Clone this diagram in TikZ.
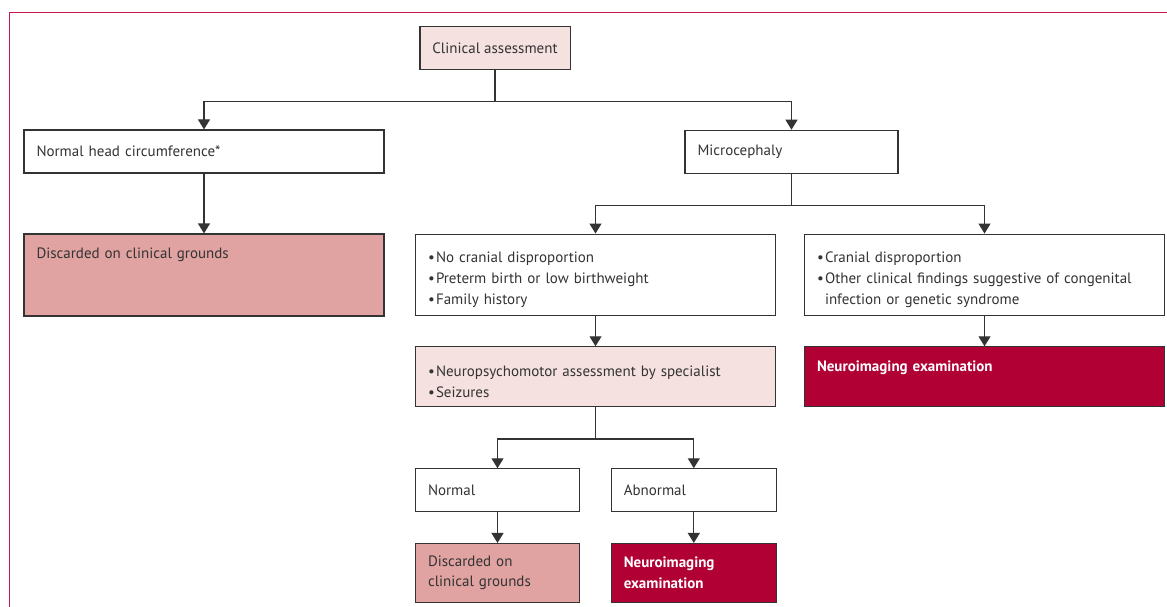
\documentclass[tikz,border=0pt]{standalone}
\usepackage{fontspec}
\setmainfont{PT Sans}
\usetikzlibrary{arrows.meta, positioning}
\definecolor{palepink}{HTML}{F5E1DF}
\definecolor{rosepink}{HTML}{E0A3A1}
\definecolor{lancetred}{HTML}{B00034}
\definecolor{framered}{HTML}{C8174A}
\definecolor{inkgray}{HTML}{333333}
% bullet line with hanging indent
\newcommand{\bitem}[1]{\par\hangindent=8pt\hangafter=1\noindent\makebox[8pt][l]{\textbullet}#1\par}

\begin{document}
\begin{tikzpicture}[>={Triangle[width=12pt,length=10pt]},
	box/.style={draw=inkgray, line width=1.2pt, rectangle, align=left, inner xsep=12.5pt, text=inkgray, font=\fontsize{15pt}{20.8pt}\selectfont},
	plain/.style={box, fill=white},
	pale/.style={box, fill=palepink},
	rose/.style={box, fill=rosepink},
	alert/.style={box, fill=lancetred, text=white, font=\fontsize{15pt}{20.8pt}\selectfont\bfseries},
	wide/.style={text width=335pt},
	short/.style={minimum height=43pt},
	arr/.style={->, draw=inkgray, line width=1.2pt},
	frame/.style={draw=framered, line width=1.3pt}]
	
	\useasboundingbox (0pt,0pt) rectangle (1167pt,-607pt);
	\draw[frame] (9.7pt,-607pt) -- (9.7pt,-12.7pt) -- (1167pt,-12.7pt);
	
	% top and first split
	\node[pale, minimum width=148.6pt, minimum height=42.6pt] (clin) at (495pt,-48pt) {Clinical assessment};
	\node[plain, wide, short] (normhc) at (204pt,-151.5pt) {Normal head circumference*};
	\node[plain, text width=188pt, short] (micro) at (791.5pt,-151.8pt) {Microcephaly};
	\node[rose, wide, inner ysep=6pt, text height=18pt, text depth=52pt, below=59.8pt of normhc] (discL) {Discarded on clinical grounds};
	
	% microcephaly branches
	\node[plain, wide, minimum height=81.5pt] (crit1) at (595.5pt,-274.9pt) {\bitem{No cranial disproportion}\bitem{Preterm birth or low birthweight}\bitem{Family history}};
	\node[plain, wide, minimum height=81.5pt, right=27.8pt of crit1] (crit2) {\bitem{Cranial disproportion}\bitem{Other clinical findings suggestive of congenital\newline infection or genetic syndrome}};
	\node[pale, wide, minimum height=59.3pt, below=30pt of crit1] (neuro) {\bitem{Neuropsychomotor assessment by specialist}\bitem{Seizures}};
	\node[alert, wide, inner ysep=6pt, text height=19pt, text depth=28.3pt, below=30pt of crit2] (imgR) {Neuroimaging examination};
	
	% specialist outcome
	\node[plain, text width=139pt, short, below=61.5pt of neuro.south west, anchor=north west] (normal) {Normal};
	\node[plain, text width=140pt, short, right=30.6pt of normal] (abnormal) {Abnormal};
	\node[rose, text width=139pt, minimum height=58.6pt, below=30.5pt of normal] (discS) {Discarded on\\clinical grounds};
	\node[alert, text width=140pt, minimum height=58.6pt, below=30.5pt of abnormal] (imgS) {Neuroimaging\\examination};
	
	% connectors
	\draw[arr] (clin.south) -- ++(0,-31.4pt) -| (normhc.north);
	\draw[arr] (clin.south) -- ++(0,-31.4pt) -| (micro.north);
	\draw[arr] (normhc.south) -- (discL.north);
	\draw[arr] (micro.south) -- ++(0,-31.3pt) -| (crit1.north);
	\draw[arr] (micro.south) -- ++(0,-31.3pt) -| (crit2.north);
	\draw[arr] (crit1.south) -- (neuro.north);
	\draw[arr] (crit2.south) -- (imgR.north);
	\draw[arr] (neuro.south) -- ++(0,-32.3pt) -| (normal.north);
	\draw[arr] (neuro.south) -- ++(0,-32.3pt) -| (abnormal.north);
	\draw[arr] (normal.south) -- (discS.north);
	\draw[arr] (abnormal.south) -- (imgS.north);
	
\end{tikzpicture}
\end{document}
